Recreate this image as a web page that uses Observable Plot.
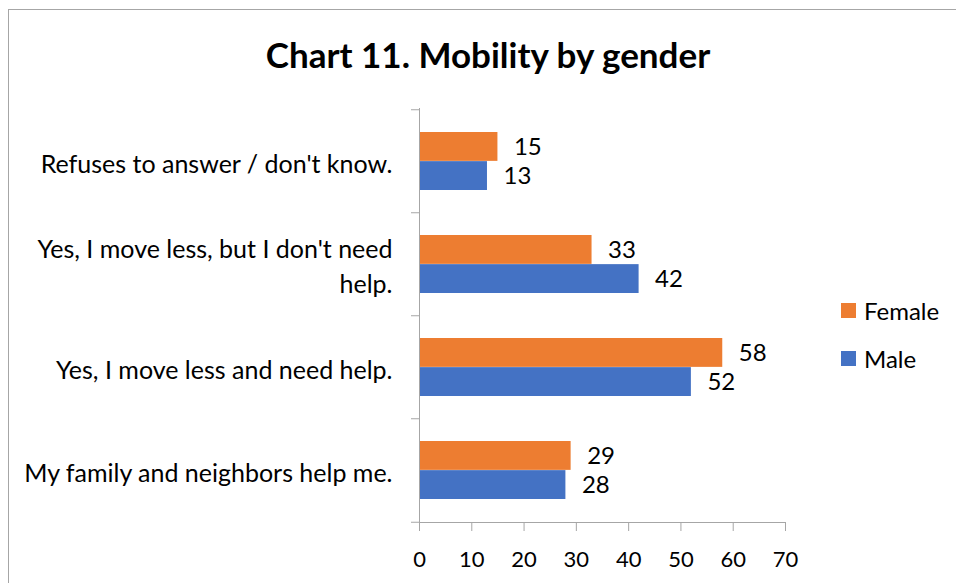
<!DOCTYPE html>
<html>
<head>
<meta charset="utf-8">
<script src="https://cdn.jsdelivr.net/npm/d3@7"></script>
<script src="https://cdn.jsdelivr.net/npm/@observablehq/plot@0.6"></script>
<style>
  html, body { margin: 0; padding: 0; background: #fff; }
  body { width: 956px; height: 583px; position: relative; overflow: hidden; font-family: Lato, "Open Sans", sans-serif; }
  #frame { position: absolute; left: 8px; top: 9px; width: 2000px; height: 2000px; border-left: 1px solid #a6a6a6; border-top: 1px solid #a6a6a6; }
  #title { position: absolute; left: 0; width: 976px; top: 33px; text-align: center; font-weight: bold; font-size: 35px; color: #000; line-height: 42px; }
  #chart { position: absolute; left: 0; top: 0; }
  .leg { position: absolute; left: 841px; font-size: 24px; color: #000; display: flex; align-items: center; }
  .leg span.sw { width: 15px; height: 15px; display: inline-block; margin-right: 8px; }
</style>
</head>
<body>
<div id="frame"></div>
<div id="chart"></div>
<div id="title">Chart 11. Mobility by gender</div>
<div id="legend"></div>
<script>
const categories = [
  "Refuses to answer / don't know.",
  "Yes, I move less, but I don't need help.",
  "Yes, I move less and need help.",
  "My family and neighbors help me."
];
const categoryLabels = [
  "Refuses to answer / don't know.",
  "Yes, I move less, but I don't need\nhelp.",
  "Yes, I move less and need help.",
  "My family and neighbors help me."
];
const female = [15, 33, 58, 29];
const male = [13, 42, 52, 28];
const xTicks = [0, 10, 20, 30, 40, 50, 60, 70];
const seriesNames = ["Female", "Male"];
const seriesColors = ["#ED7D31", "#4472C4"];

const W = 956, H = 583;
const mL = 419, mR = 171, mT = 108, mB = 61;
const padIn = 0.437;
const step = (H - mT - mB) / categories.length;
const bw = step * (1 - padIn);

const femaleData = categories.map((c, i) => ({category: c, value: female[i]}));
const maleData = categories.map((c, i) => ({category: c, value: male[i]}));
const labelOf = new Map(categories.map((c, i) => [c, categoryLabels[i]]));
const axisGray = "#a6a6a6";

const plot = Plot.plot({
  width: W, height: H,
  marginLeft: mL, marginRight: mR, marginTop: mT, marginBottom: mB,
  style: {fontFamily: "Lato, 'Open Sans', sans-serif", color: "#000", background: "transparent", overflow: "visible"},
  x: {domain: [0, 70], ticks: xTicks, label: null},
  y: {domain: categories, paddingInner: padIn, paddingOuter: padIn / 2, label: null},
  marks: [
    Plot.barX(femaleData, {x: "value", y: "category", fill: seriesColors[0], insetBottom: bw / 2}),
    Plot.barX(maleData, {x: "value", y: "category", fill: seriesColors[1], insetTop: bw / 2}),
    Plot.text(femaleData, {x: "value", y: "category", text: d => String(d.value), dy: -bw / 4, dx: 16, textAnchor: "start", fontSize: 24, fill: "#000"}),
    Plot.text(maleData, {x: "value", y: "category", text: d => String(d.value), dy: bw / 4, dx: 16, textAnchor: "start", fontSize: 24, fill: "#000"}),
    Plot.frame({anchor: "left", stroke: axisGray, strokeOpacity: 1}),
    Plot.frame({anchor: "bottom", stroke: axisGray, strokeOpacity: 1}),
    Plot.ruleY(categories, {y: d => d, x1: 0, x2: 0, insetLeft: -8, dy: -step / 2, stroke: axisGray}),
    Plot.ruleY(categories.slice(-1), {y: d => d, x1: 0, x2: 0, insetLeft: -8, dy: step / 2, stroke: axisGray}),
    Plot.axisX({ticks: xTicks, tickSize: 9, tickPadding: 20, fontSize: 22, stroke: axisGray, strokeOpacity: 1, fill: "#000", label: null}),
    Plot.axisY({tickSize: 0, tickPadding: 27, fontSize: 25, lineHeight: 1.38, tickFormat: d => labelOf.get(d), fill: "#000", label: null})
  ]
});
document.getElementById("chart").appendChild(plot);

const legend = document.getElementById("legend");
const legTops = [296, 344];
seriesNames.forEach((name, i) => {
  const div = document.createElement("div");
  div.className = "leg";
  div.style.top = legTops[i] + "px";
  div.innerHTML = `<span class="sw" style="background:${seriesColors[i]}"></span>${name}`;
  legend.appendChild(div);
});
</script>
</body>
</html>
